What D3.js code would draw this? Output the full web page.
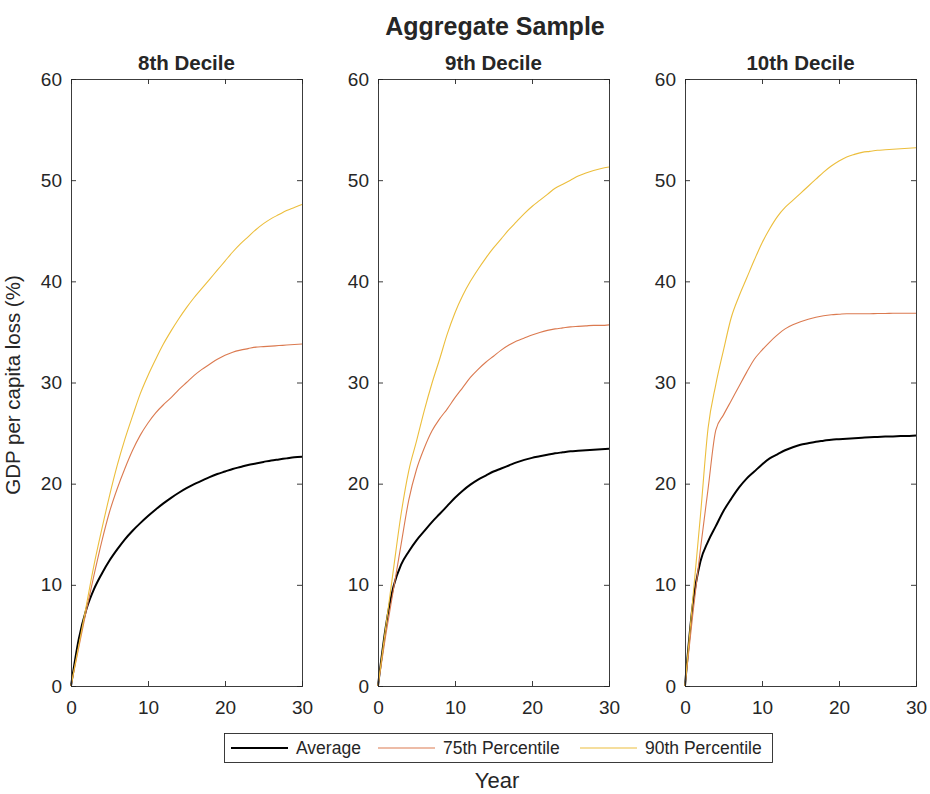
<!DOCTYPE html>
<html><head><meta charset="utf-8">
<script src="https://cdn.jsdelivr.net/npm/d3@7"></script>
<style>
body{margin:0;background:#fff;}
text{font-family:"Liberation Sans",Arial,Helvetica,sans-serif;fill:#262626;}
</style></head>
<body><svg id="c" width="930" height="794"></svg>
<script>
const years = d3.range(0, 31);
const panels = ["8th Decile", "9th Decile", "10th Decile"];
const seriesNames = ["Average", "75th Percentile", "90th Percentile"];
const xTicks = [0, 10, 20, 30];
const yTicks = [0, 10, 20, 30, 40, 50, 60];

// 8th Decile
const avg8 = [0,4.6,7.6,9.6,11.1,12.4,13.5,14.5,15.35,16.1,16.8,17.45,18.05,18.6,19.1,19.55,19.95,20.3,20.65,20.95,21.2,21.45,21.65,21.85,22.0,22.15,22.3,22.4,22.5,22.6,22.65];
const p75_8 = [0,3.8,7.5,11,14.3,17.2,19.5,21.5,23.3,24.8,26.0,27.0,27.8,28.5,29.3,30.0,30.7,31.3,31.8,32.3,32.7,33.0,33.2,33.35,33.5,33.55,33.6,33.65,33.7,33.75,33.8];
const p90_8 = [0,4,8,12,15.5,18.8,21.8,24.4,26.7,28.9,30.7,32.3,33.8,35.1,36.3,37.4,38.4,39.3,40.2,41.1,42.0,42.9,43.7,44.4,45.1,45.7,46.2,46.6,47.0,47.3,47.6];
// 9th Decile
const avg9 = [0,5.8,9.8,12.0,13.3,14.4,15.3,16.2,17.0,17.8,18.6,19.3,19.9,20.4,20.8,21.2,21.5,21.8,22.1,22.35,22.55,22.7,22.85,23.0,23.1,23.2,23.25,23.3,23.35,23.4,23.45];
const p75_9 = [0,5,9.5,14,18.4,21.4,23.5,25.2,26.4,27.4,28.5,29.5,30.5,31.3,32.0,32.6,33.2,33.7,34.1,34.4,34.7,34.95,35.15,35.3,35.4,35.5,35.55,35.6,35.65,35.65,35.7];
const p90_9 = [0,5.8,11.5,17,21.3,24.2,27.2,29.9,32.3,34.8,36.9,38.6,40.0,41.2,42.3,43.3,44.2,45.1,45.9,46.7,47.4,48.0,48.6,49.2,49.6,50.0,50.4,50.7,50.95,51.15,51.3];
// 10th Decile
const avg10 = [0,8,12.3,14.3,15.8,17.3,18.5,19.6,20.5,21.2,21.9,22.5,22.9,23.3,23.6,23.85,24.0,24.15,24.25,24.35,24.4,24.45,24.5,24.55,24.6,24.62,24.65,24.67,24.7,24.72,24.75];
const p75_10 = [0,7,13.5,19.5,25.3,26.8,28.2,29.6,31.0,32.3,33.2,34.0,34.7,35.3,35.7,36.0,36.25,36.45,36.6,36.7,36.75,36.8,36.8,36.8,36.8,36.82,36.82,36.84,36.84,36.85,36.85];
const p90_10 = [0,8.5,16.8,25.5,29.8,33.2,36.4,38.5,40.3,42.1,43.8,45.2,46.4,47.3,48.0,48.7,49.4,50.1,50.8,51.4,51.9,52.3,52.55,52.75,52.85,52.95,53.0,53.05,53.1,53.15,53.2];

const panelData = [[avg8, p75_8, p90_8], [avg9, p75_9, p90_9], [avg10, p75_10, p90_10]];
const colors = ["#000000", "#DB7A50", "#ECBE3C"];
const widths = [2, 1.1, 1.1];

const svg = d3.select("#c");
const lefts = [71, 378, 685], pw = 231, plotTop = 79, plotBottom = 686;
const y = d3.scaleLinear().domain([0, 60]).range([plotBottom, plotTop]);
const axisColor = "#262626";

svg.append("text").attr("x", 495).attr("y", 35).attr("text-anchor", "middle")
  .attr("font-size", 25).attr("font-weight", "bold").text("Aggregate Sample");

panels.forEach((name, i) => {
  const x = d3.scaleLinear().domain([0, 30]).range([lefts[i], lefts[i] + pw]);
  const g = svg.append("g");
  panelData[i].forEach((vals, s) => {
    const line = d3.line().x((d, k) => x(years[k])).y(d => y(d)).curve(d3.curveMonotoneX);
    g.append("path").datum(vals).attr("d", line).attr("fill", "none")
      .attr("stroke", colors[s]).attr("stroke-width", widths[s]);
  });
  const ax = d3.axisBottom(x).tickValues(xTicks).tickSize(-5).tickPadding(14);
  const gx = g.append("g").attr("transform", `translate(0,${plotBottom})`).call(ax);
  const axT = d3.axisTop(x).tickValues(xTicks).tickSize(-5).tickFormat("");
  const gxt = g.append("g").attr("transform", `translate(0,${plotTop})`).call(axT);
  const ay = d3.axisLeft(y).tickValues(yTicks).tickSize(-5).tickPadding(9);
  const gy = g.append("g").attr("transform", `translate(${lefts[i]},0)`).call(ay);
  const ayR = d3.axisRight(y).tickValues(yTicks).tickSize(-5).tickFormat("");
  const gyr = g.append("g").attr("transform", `translate(${lefts[i] + pw},0)`).call(ayR);
  [gx, gxt, gy, gyr].forEach(a => {
    a.select(".domain").attr("stroke", axisColor).attr("stroke-width", 0.9);
    a.selectAll(".tick line").attr("stroke", axisColor).attr("stroke-width", 0.9);
    a.selectAll(".tick text").attr("font-size", 19).attr("fill", axisColor)
      .style("font-family", '"Liberation Sans",Arial,sans-serif');
  });
  gx.selectAll(".tick text").attr("dy", "0.72em");
  g.append("text").attr("x", lefts[i] + pw / 2).attr("y", 70).attr("text-anchor", "middle")
    .attr("font-size", 20.5).attr("font-weight", "bold").text(name);
});

svg.append("text").attr("transform", "translate(20,385) rotate(-90)").attr("text-anchor", "middle")
  .attr("font-size", 20.5).text("GDP per capita loss (%)");

svg.append("text").attr("x", 497).attr("y", 788).attr("text-anchor", "middle")
  .attr("font-size", 22).text("Year");

const lg = svg.append("g");
lg.append("rect").attr("x", 224.5).attr("y", 733.5).attr("width", 548).attr("height", 29)
  .attr("fill", "#fff").attr("stroke", axisColor).attr("stroke-width", 0.9);
const legX = [231, 378, 580];
seriesNames.forEach((n, s) => {
  lg.append("line").attr("x1", legX[s]).attr("x2", legX[s] + 57).attr("y1", 748).attr("y2", 748)
    .attr("stroke", colors[s]).attr("stroke-width", widths[s]);
  lg.append("text").attr("x", legX[s] + 65).attr("y", 754).attr("font-size", 17.5).text(n);
});
</script></body></html>
